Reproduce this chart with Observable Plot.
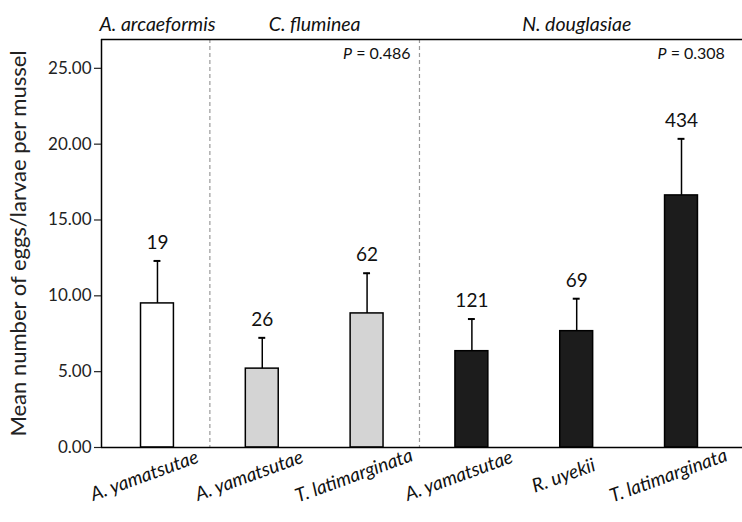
<!DOCTYPE html>
<html>
<head>
<meta charset="utf-8">
<script src="https://cdn.jsdelivr.net/npm/d3@7"></script>
<script src="https://cdn.jsdelivr.net/npm/@observablehq/plot@0.6"></script>
<style>
  html, body { margin: 0; padding: 0; background: #fff; }
  #chart svg { display: block; font-family: Lato, "Open Sans", sans-serif; }
</style>
</head>
<body>
<div id="chart"></div>
<script>
// ---- data ----
const hosts = ["A. arcaeformis", "C. fluminea", "C. fluminea", "N. douglasiae", "N. douglasiae", "N. douglasiae"];
const fishes = ["A. yamatsutae", "A. yamatsutae", "T. latimarginata", "A. yamatsutae", "R. uyekii", "T. latimarginata"];
const means = [9.5, 5.2, 8.84, 6.35, 7.67, 16.62];
const seUpper = [12.3, 7.23, 11.49, 8.47, 9.81, 20.35];
const nLabels = ["19", "26", "62", "121", "69", "434"];
const groupNames = ["A. arcaeformis", "C. fluminea", "N. douglasiae"];
const groupCenters = [0, 1.5, 4];
const separators = [0.5, 2.5];
const pValues = ["P = 0.486", "P = 0.308"];
const pGroupEnds = [2.5, 5.5];
const yTicks = [0, 5, 10, 15, 20, 25];

const fills = ["#ffffff", "#d4d4d4", "#1c1c1c"];

const rows = fishes.map((f, i) => ({i, host: hosts[i], fish: f, mean: means[i], upper: seUpper[i], n: nLabels[i]}));
const groups = groupNames.map((g, k) => ({g, c: groupCenters[k]}));
const pRows = pValues.map((p, k) => ({p, x: pGroupEnds[k]}));

const halfW = 0.157;
const yMax = 26.9;

const chart = Plot.plot({
  width: 742,
  height: 522,
  marginLeft: 101,
  marginRight: 0,
  marginTop: 39,
  marginBottom: 75,
  style: {fontFamily: "Lato, 'Open Sans', sans-serif", background: "#fff"},
  x: {domain: [-0.534, 5.582], axis: null},
  y: {domain: [0, yMax], axis: null},
  color: {type: "ordinal", domain: groupNames, range: fills},
  marks: [
    // dashed separators
    Plot.ruleX(separators, {stroke: "#9a9a9a", strokeDasharray: "4,3", strokeWidth: 1.2}),
    // bars
    Plot.rectY(rows, {x1: d => d.i - halfW, x2: d => d.i + halfW, y1: 0, y2: "mean", fill: "host", stroke: "#000", strokeWidth: 1.5}),
    // error bars
    Plot.ruleX(rows, {x: "i", y1: "mean", y2: "upper", stroke: "#000", strokeWidth: 1.5}),
    Plot.ruleY(rows, {y: "upper", x1: d => d.i - 0.033, x2: d => d.i + 0.033, stroke: "#000", strokeWidth: 2}),
    // n labels
    Plot.text(rows, {x: "i", y: "upper", text: "n", dy: -18, fontSize: 19, fill: "#111"}),
    // frame lines
    Plot.ruleY([0], {stroke: "#000", strokeWidth: 1.5}),
    Plot.ruleY([yMax], {stroke: "#000", strokeWidth: 1.5}),
    Plot.ruleX([-0.534], {stroke: "#000", strokeWidth: 1.5}),
    // y axis
    Plot.axisY({ticks: yTicks, tickFormat: d3.format(".2f"), tickSize: 7, tickPadding: 3, fontSize: 17, color: "#222", strokeWidth: 1.2}),
    Plot.text(["Mean number of eggs/larvae per mussel"], {frameAnchor: "left", textAnchor: "middle", dx: -83, rotate: -90, fontSize: 22, fill: "#222"}),
    // x category labels (rotated)
    Plot.text(rows, {x: "i", text: "fish", frameAnchor: "bottom", dy: 34, dx: -11, rotate: -20, fontSize: 19, fontStyle: "italic", fill: "#111"}),
    // group headings
    Plot.text(groups, {x: "c", text: "g", frameAnchor: "top", dy: -22, fontSize: 19.5, fontStyle: "italic", fill: "#111"}),
    // P values
    Plot.text(pRows, {x: "x", text: "p", frameAnchor: "top", dy: 8, dx: -9, textAnchor: "end", fontSize: 16, fill: "#111", className: "pval"})
  ]
});

// italicise the "P" in the P-value labels
d3.select(chart).selectAll(".pval text").each(function() {
  const t = d3.select(this);
  const s = t.text();
  t.text("");
  t.append("tspan").attr("font-style", "italic").text(s.slice(0, 1));
  t.append("tspan").text(s.slice(1));
});

document.getElementById("chart").appendChild(chart);
</script>
</body>
</html>
